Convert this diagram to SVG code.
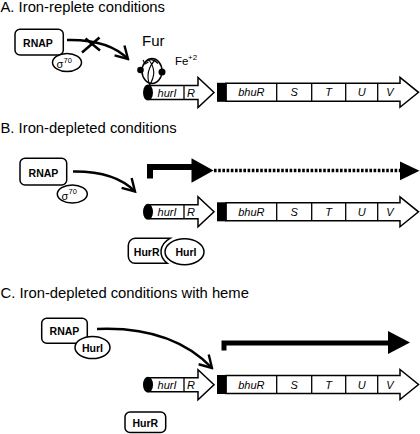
<svg xmlns="http://www.w3.org/2000/svg" width="420" height="434" viewBox="0 0 420 434">
<style>
text{font-family:"Liberation Sans",Arial,sans-serif;fill:#000}
.title{font-size:14.8px}
.lbl{font-size:10.5px;font-weight:bold;text-anchor:middle}
.gene{font-size:11px;font-style:italic;text-anchor:middle}
.box{fill:#fff;stroke:#000;stroke-width:1.5}
.blk{fill:#000;stroke:none}
.div{stroke:#000;stroke-width:1.3}
.conn{fill:none;stroke:#000;stroke-width:2.4;marker-end:url(#open)}
</style>
<defs>
<marker id="open" viewBox="-14 -9 16 18" refX="0" refY="0" markerWidth="16" markerHeight="18" orient="auto" markerUnits="userSpaceOnUse">
<path d="M-12,-7 L0,0 L-12,7" fill="none" stroke="#000" stroke-width="2.4"/>
</marker>
<g id="hurOperon">
<path class="box" d="M150,-7 H198 V-15 L214,0 L198,15 V7 H150 Z"/>
<line class="div" x1="184" y1="-7" x2="184" y2="7"/>
<ellipse class="blk" cx="148" cy="0" rx="5" ry="8"/>
<text class="gene" x="167" y="4">hurI</text>
<text class="gene" x="191" y="4">R</text>
</g>
<g id="bhuOperon">
<path class="box" d="M226,-9 H400 V-15 L418.5,0 L400,15 V9 H226 Z"/>
<rect class="blk" x="217" y="-9.5" width="9.5" height="19"/>
<line class="div" x1="276.7" y1="-9" x2="276.7" y2="9"/>
<line class="div" x1="311.7" y1="-9" x2="311.7" y2="9"/>
<line class="div" x1="345.7" y1="-9" x2="345.7" y2="9"/>
<line class="div" x1="377.7" y1="-9" x2="377.7" y2="9"/>
<text class="gene" x="251.3" y="4">bhuR</text>
<text class="gene" x="294.2" y="4">S</text>
<text class="gene" x="328.7" y="4">T</text>
<text class="gene" x="361.7" y="4">U</text>
<text class="gene" x="390" y="4">V</text>
</g>
</defs>

<!-- Panel A -->
<text class="title" x="0.5" y="12">A. Iron-replete conditions</text>
<g id="A-RNAP">
<rect class="box" x="15" y="29.3" width="48.3" height="25.7" rx="5"/>
<text class="lbl" x="38" y="47.3">RNAP</text>
</g>
<g id="A-sigma70">
<ellipse class="box" cx="67" cy="62.5" rx="14.5" ry="9"/>
<text x="56.5" y="68" font-size="11">σ</text><text x="63.5" y="62.5" font-size="7.5">70</text>
</g>
<g id="A-Fur">
<text x="142" y="46" font-size="15">Fur</text>
<ellipse class="box" cx="152" cy="71" rx="10" ry="12.5"/>
<path d="M148,59 Q159,71 149,86 M156,59 Q144,71 150,86" fill="none" stroke="#000" stroke-width="1.1"/>
<path d="M158,63.5 Q151,56 145,63" fill="none" stroke="#000" stroke-width="1.1"/>
<path d="M143,60 L145,64 L148.5,62" fill="none" stroke="#000" stroke-width="1.1"/>
<circle cx="140.5" cy="70" r="3.3" fill="#000"/>
<circle cx="162" cy="72" r="3.5" fill="#000"/>
</g>
<g id="A-Fe">
<text x="175" y="65" font-size="11.5">Fe</text><text x="188" y="60" font-size="8">+2</text>
</g>
<g id="A-hurIR" transform="translate(0,92.5)"><use href="#hurOperon"/></g>
<g id="A-bhuRSTUV" transform="translate(0,92.3)"><use href="#bhuOperon"/></g>

<!-- Panel B -->
<text class="title" x="0.5" y="132.5">B. Iron-depleted conditions</text>
<g id="B-RNAP">
<rect class="box" x="20" y="158.3" width="46.7" height="26.7" rx="5"/>
<text class="lbl" x="43.5" y="176.7">RNAP</text>
</g>
<g id="B-sigma70">
<ellipse class="box" cx="72.3" cy="194" rx="15" ry="9"/>
<text x="61.5" y="199.5" font-size="11">σ</text><text x="68.5" y="194" font-size="7.5">70</text>
</g>
<g id="B-transcript-hur">
<path d="M150,178.5 V167 H193" fill="none" stroke="#000" stroke-width="6"/>
<path d="M191.5,158.3 L213.5,170.5 L191.5,182.7 Z" fill="#000"/>
</g>
<g id="B-transcript-bhu">
<line x1="214" y1="170.5" x2="401" y2="170.5" stroke="#000" stroke-width="3.5" stroke-dasharray="2.6 1.6"/>
<path d="M400,161.5 L419.5,170.8 L400,180.2 Z" fill="#000"/>
</g>
<g id="B-hurIR" transform="translate(0,211.8)"><use href="#hurOperon"/></g>
<g id="B-bhuRSTUV" transform="translate(0,211.8)"><use href="#bhuOperon"/></g>
<g id="B-HurR">
<path class="box" d="M135,238.3 H170 A23.5 17 0 0 0 167.3,263.3 H135 A7 7 0 0 1 128.3,256.3 V245.3 A7 7 0 0 1 135,238.3 Z"/>
<text class="lbl" x="146.7" y="255.5">HurR</text>
</g>
<g id="B-HurI">
<ellipse class="box" cx="184.5" cy="251.7" rx="19.5" ry="13"/>
<text class="lbl" x="186" y="255.5">HurI</text>
</g>

<!-- Panel C -->
<text class="title" x="0.5" y="297.5">C. Iron-depleted conditions with heme</text>
<g id="C-RNAP">
<rect class="box" x="41.7" y="318.3" width="45.6" height="25" rx="5"/>
<text class="lbl" x="64.5" y="335">RNAP</text>
</g>
<g id="C-HurI">
<ellipse class="box" cx="92.5" cy="347.5" rx="17.5" ry="11"/>
<text class="lbl" x="92.5" y="351.5">HurI</text>
</g>
<g id="C-transcript">
<path d="M224,350.5 V343 H390" fill="none" stroke="#000" stroke-width="5"/>
<path d="M388,331 L410,342.5 L388,354 Z" fill="#000"/>
</g>
<g id="C-hurIR" transform="translate(0,384.7)"><use href="#hurOperon"/></g>
<g id="C-bhuRSTUV" transform="translate(0,384.5)"><use href="#bhuOperon"/></g>
<g id="C-HurR">
<rect class="box" x="125" y="412" width="40.7" height="20.5" rx="5"/>
<text class="lbl" x="145.3" y="426.5">HurR</text>
</g>

<!-- Connectors -->
<g id="connectors">
<path class="conn" d="M67,40 Q108,39 128,59"/>
<path d="M82,52.5 L99.5,37.5 M85.5,38.5 L100,50.5" fill="none" stroke="#000" stroke-width="2.5"/>
<path class="conn" d="M73,171.5 Q115,171 135,191.5"/>
<path class="conn" d="M97,329 C145,327 185,340 212,368"/>
</g>
</svg>
